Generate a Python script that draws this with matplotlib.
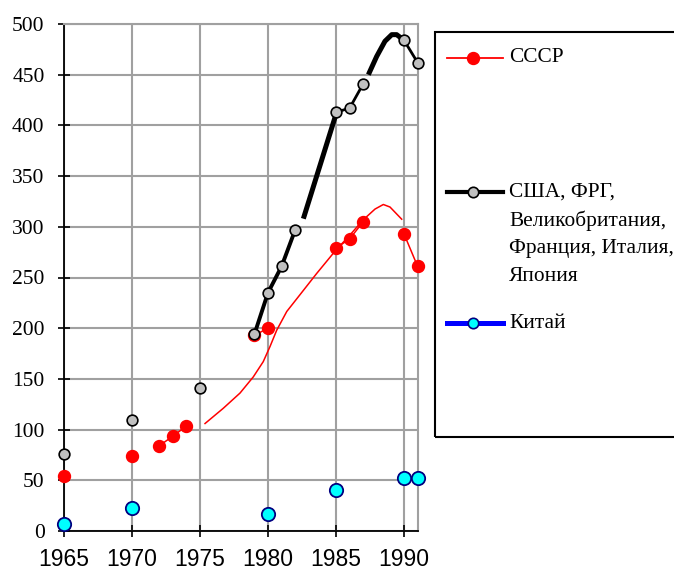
import numpy as np
import matplotlib.pyplot as plt
from matplotlib.lines import Line2D
from matplotlib.patches import Rectangle

# ---- data ----
# USSR points, runs with the same group id are joined by a line
years_ussr = [1965, 1970, 1972, 1973, 1974, 1979, 1980, 1985, 1986, 1987, 1990, 1991]
ussr = [54, 74, 84, 93.5, 103.5, 193, 200, 279, 288, 305, 293, 261]
ussr_groups = [0, 1, 2, 2, 2, 3, 3, 4, 4, 4, 5, 5]

# smooth USSR curve (no markers)
years_ussr_curve = [1975.37, 1976.71, 1977.94, 1978.92, 1979.65, 1980.15, 1980.64, 1981.38,
                    1982.35, 1983.58, 1984.93, 1986.03, 1987.01, 1987.87, 1988.48, 1988.97, 1989.83]
ussr_curve = [106, 121, 136, 152, 167, 182, 198, 216.5, 233, 254, 276, 292, 307, 317.5, 322, 319.5, 307.5]

# USA, FRG, UK, France, Italy, Japan
years_west = [1965, 1970, 1975, 1979, 1980, 1981, 1982, 1985, 1986, 1987, 1990, 1991]
west = [76, 109, 141, 194, 235, 261, 297, 413, 417, 441, 484, 462]
west_groups = [0, 1, 2, 3, 3, 3, 3, 4, 4, 4, 5, 5]

# thick black curve pieces (no markers)
years_west_b = [1982.6, 1985]
west_b = [308, 411]
years_west_c = [1987.38, 1987.99, 1988.6, 1989.1, 1989.46, 1989.95]
west_c = [450, 468, 483, 489.5, 489.5, 484.5]

# China
years_china = [1965, 1970, 1980, 1985, 1990, 1991]
china = [7, 23, 17, 40.5, 52, 52]

x_ticks = [1965, 1970, 1975, 1980, 1985, 1990]
y_ticks = list(range(0, 501, 50))

label_ussr = 'СССР'
label_west = ['США, ФРГ,', 'Великобритания,', 'Франция, Италия,', 'Япония']
label_china = 'Китай'

# ---- figure ----
W, H = 674, 570
fig = plt.figure(figsize=(W / 100, H / 100), dpi=100)
ax = fig.add_axes([64 / W, 1 - 531 / H, (417.6 - 64) / W, 507 / H])


def fpos(x, y):
    # pixel position -> figure fraction
    return x / W, 1 - y / H


grid_col = '#a0a0a0'

# USSR smooth curve
ax.plot(years_ussr_curve, ussr_curve, color='red', lw=1.1, zorder=3)

# USSR markers + short connectors
for g in sorted(set(ussr_groups)):
    xs = [x for x, k in zip(years_ussr, ussr_groups) if k == g]
    ys = [y for y, k in zip(ussr, ussr_groups) if k == g]
    ax.plot(xs, ys, color='red', lw=1.1, marker='o', ms=8.6, mfc='red', mec='red',
            zorder=4, clip_on=False)

# black thick curve pieces
ax.plot(years_west_b, west_b, color='black', lw=3.6, solid_capstyle='butt', zorder=5)
ax.plot(years_west_c, west_c, color='black', lw=3.6, solid_capstyle='butt', zorder=5)

# western countries markers + connectors
for g in sorted(set(west_groups)):
    xs = [x for x, k in zip(years_west, west_groups) if k == g]
    ys = [y for y, k in zip(west, west_groups) if k == g]
    lw = 2.8 if len(xs) == 4 else 2.0
    ax.plot(xs, ys, color='black', lw=lw, marker='o', ms=7.7, mfc='#c0c0c0', mec='black',
            mew=1.2, zorder=6, clip_on=False)

# China markers only
ax.plot(years_china, china, ls='none', marker='o', ms=9.6, mfc='cyan', mec='#000080',
        mew=1.3, zorder=7, clip_on=False)

# axes
ax.set_xlim(1965, 1991)
ax.set_ylim(0, 500)
ax.set_xticks(x_ticks)
ax.set_yticks(y_ticks)
ax.set_xticklabels([str(t) for t in x_ticks], fontfamily='Liberation Sans', fontsize=16.5)
ax.set_yticklabels([str(t) for t in y_ticks], fontfamily='Liberation Serif', fontsize=15.5)
ax.tick_params(direction='inout', length=8, width=1.2, color='black')
ax.tick_params(axis='y', pad=10)
ax.tick_params(axis='x', pad=8.5)
ax.grid(color=grid_col, lw=1.5)
ax.set_axisbelow(True)
for s in ['top', 'right']:
    ax.spines[s].set_color(grid_col)
    ax.spines[s].set_linewidth(1.5)
for s in ['left', 'bottom']:
    ax.spines[s].set_linewidth(1.3)

# ---- legend drawn by hand ----
x0, y0 = fpos(435, 436.7)
x1, y1 = fpos(700, 31.7)
fig.add_artist(Rectangle((x0, y0), x1 - x0, y1 - y0, transform=fig.transFigure,
                         fill=False, ec='black', lw=1.5, clip_on=False))


def legend_entry(y, line_kw, marker_kw, lines):
    xa, ya = fpos(447, y)
    xb, _ = fpos(503, y)
    xm, _ = fpos(473, y)
    fig.add_artist(Line2D([xa, xb], [ya, ya], transform=fig.transFigure, **line_kw))
    fig.add_artist(Line2D([xm], [ya], transform=fig.transFigure, ls='none', marker='o', **marker_kw))
    for i, txt in enumerate(lines):
        xt, yt = fpos(509, y + i * 28.3)
        fig.text(xt, yt, txt, fontfamily='Liberation Serif', fontsize=15.4, va='center', ha='left')


legend_entry(58, dict(color='red', lw=1.3), dict(ms=8.6, mfc='red', mec='red'), [label_ussr])
legend_entry(192, dict(color='black', lw=3.0), dict(ms=7.5, mfc='#c0c0c0', mec='black', mew=1.2),
             label_west)
legend_entry(323, dict(color='blue', lw=3.6), dict(ms=7.5, mfc='cyan', mec='#000080', mew=1.2),
             [label_china])

fig.savefig('out.png', dpi=100)
